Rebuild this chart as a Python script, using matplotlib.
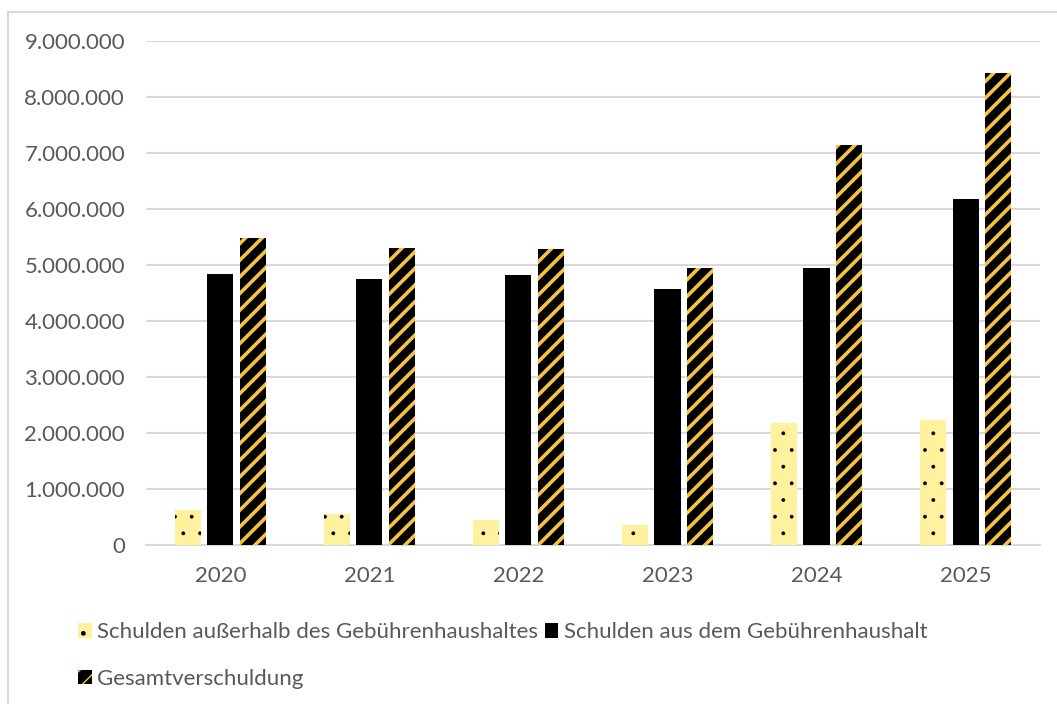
import numpy as np
import matplotlib
matplotlib.use("Agg")
import matplotlib.pyplot as plt
from matplotlib.patches import Rectangle, Patch
from matplotlib.ticker import FuncFormatter

plt.rcParams['font.family'] = ['Lato', 'DejaVu Sans']

# Schuldenstand je Jahr (Euro)
jahre = ["2020", "2021", "2022", "2023", "2024", "2025"]
ausserhalb = [630000, 550000, 450000, 360000, 2180000, 2230000]
gebuehren = [4840000, 4750000, 4820000, 4570000, 4950000, 6180000]
gesamt = [5480000, 5300000, 5290000, 4940000, 7140000, 8420000]

namen = ["Schulden außerhalb des Gebührenhaushaltes",
         "Schulden aus dem Gebührenhaushalt",
         "Gesamtverschuldung"]

gelb = "#FFF29E"
orange = "#F7C243"
grau_text = "#595959"
grau_linie = "#D9D9D9"
fs = 16

fig = plt.figure(figsize=(10.57, 7.04), dpi=100)
ax = fig.add_axes([0.138, 0.226, 0.846, 0.716])

x = np.arange(len(jahre))
b = 0.175
d = 0.22

# Rahmen um das Diagramm
fig.patches.append(Rectangle((8 / 1057, -0.1), 1.2, 1 - 12 / 704 + 0.1,
                             transform=fig.transFigure, fill=False,
                             edgecolor=grau_linie, linewidth=1.5, zorder=0))

# Punktmuster (feine Punkte) und Streifenmuster
with plt.rc_context({'hatch.linewidth': 0.3}):
    ax.bar(x - d, ausserhalb, b, color=gelb, zorder=3)
    ax.bar(x - d, ausserhalb, b, facecolor="none", edgecolor="black",
           linewidth=0, hatch=".", zorder=4)
    h1 = Patch(facecolor=gelb, edgecolor="black", linewidth=0, hatch=".")
ax.bar(x, gebuehren, b, color="black", zorder=3)
with plt.rc_context({'hatch.linewidth': 2.6}):
    ax.bar(x + d, gesamt, b, color="black", zorder=3)
    ax.bar(x + d, gesamt, b, facecolor="none", edgecolor=orange,
           linewidth=0, hatch="//", zorder=4)
    h3 = Patch(facecolor="black", edgecolor=orange, linewidth=0, hatch="//")
h2 = Patch(facecolor="black", linewidth=0)

ax.set_xlim(-0.5, len(jahre) - 0.5)
ax.set_ylim(0, 9000000)
ax.set_yticks(np.arange(0, 9000001, 1000000))
ax.yaxis.set_major_formatter(FuncFormatter(lambda v, p: f"{int(v):,}".replace(",", ".")))
ax.set_xticks(x)
ax.set_xticklabels(jahre)

ax.grid(axis="y", color=grau_linie, linewidth=1.5, zorder=0)
ax.set_axisbelow(True)
for s in ["top", "right", "left"]:
    ax.spines[s].set_visible(False)
ax.spines["bottom"].set_color(grau_linie)
ax.spines["bottom"].set_linewidth(1.5)
ax.tick_params(length=0, labelsize=fs, colors=grau_text)
ax.tick_params(axis="y", pad=15)
ax.tick_params(axis="x", pad=15)

leg = fig.legend([h1, h3, h2], [namen[0], namen[2], namen[1]], ncol=2,
                 loc="upper left", bbox_to_anchor=(0.074, 0.116),
                 frameon=False, fontsize=fs, handlelength=0.6, handleheight=0.6,
                 handletextpad=0.25, columnspacing=0.3, labelspacing=1.2,
                 borderaxespad=0, borderpad=0)
for t in leg.get_texts():
    t.set_color(grau_text)

fig.savefig("out.png", dpi=100)
